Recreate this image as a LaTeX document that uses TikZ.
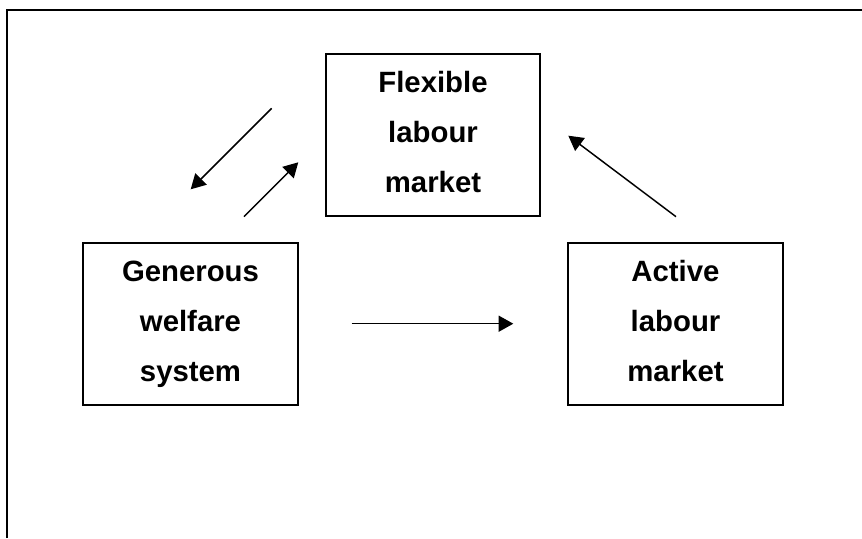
\documentclass[tikz,border=0pt]{standalone}
\usepackage{fontspec}
\setmainfont{Liberation Sans}
\usetikzlibrary{arrows.meta}

\begin{document}
\begin{tikzpicture}[x=0.75pt,y=-0.75pt,
    box/.style={draw,line width=1.5pt,minimum width=161pt,minimum height=121pt,
      align=center,font=\fontsize{22}{37.5}\selectfont\bfseries},
    link/.style={line width=1.1pt,-{Triangle[length=11pt,width=12pt]}}]
  % Constants
  \pgfmathsetmacro\top{135}
  \pgfmathsetmacro\low{324}
  % Boundary
  \path[use as bounding box] (0,0) rectangle (862,538);
  \draw[line width=1.5pt] (7,538) -- (7,10) -- (862,10);
  % Boxes
  \node[box] (flex) at (433,\top) {Flexible\\labour\\market\vphantom{y}};
  \node[box] (gen) at (190.5,\low) {Generous\\welfare\\system};
  \node[box] (act) at (675.5,\low) {Active\\labour\\market\vphantom{y}};
  % Arrow ends
  \coordinate (down1) at (271.7,108.3);
  \coordinate (down2) at (190.7,189.3);
  \coordinate (up1) at (244,216.7);
  \coordinate (up2) at (298.3,162.3);
  \coordinate (back1) at (676,216.7);
  \coordinate (back2) at (568.3,135.7);
  \coordinate (right1) at (351.7,323.7);
  \coordinate (right2) at (513.3,323.7);
  % Arrows
  \draw[link] (down1) -- (down2);
  \draw[link] (up1) -- (up2);
  \draw[link] (back1) -- (back2);
  \draw[link] (right1) -- (right2);
\end{tikzpicture}
\end{document}
